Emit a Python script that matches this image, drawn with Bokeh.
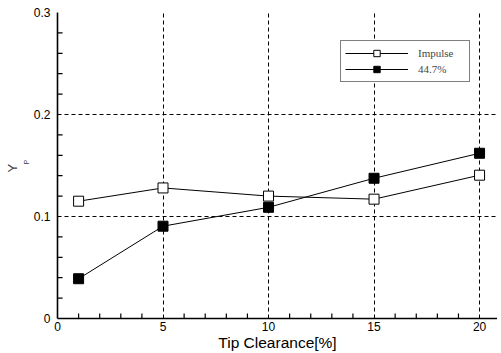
from bokeh.plotting import figure
from bokeh.models import FixedTicker, Range1d, Legend, LegendItem, Title
from bokeh.embed import file_html
from bokeh.resources import INLINE

# Data
clearance = [1, 5, 10, 15, 20]
impulse = [0.115, 0.128, 0.120, 0.117, 0.1405]
reaction_447 = [0.039, 0.0905, 0.109, 0.1375, 0.162]
series_names = ["Impulse", "44.7%"]
x_ticks = [0, 5, 10, 15, 20]
x_minor = list(range(1, 21))
y_ticks = [0, 0.1, 0.2, 0.3]
y_minor = [round(i * 0.02, 2) for i in range(1, 15)]
y_tick_labels = {0: "0", 0.1: "0.1", 0.2: "0.2", 0.3: "0.3"}

X_END = 20.85
p = figure(frame_width=440, frame_height=306, output_backend="svg", toolbar_location=None,
           x_range=Range1d(0, X_END), y_range=Range1d(0, 0.3),
           min_border_left=57, min_border_right=0, min_border_top=12, min_border_bottom=0)
p.outline_line_color = None
p.background_fill_color = "white"
p.border_fill_color = "white"

# Grid
for g in (p.xgrid, p.ygrid):
    g.grid_line_color = "black"
    g.grid_line_dash = "4 3"
    g.grid_line_width = 1
p.xgrid.ticker = FixedTicker(ticks=[5, 10, 15, 20])
p.ygrid.ticker = FixedTicker(ticks=[0.1, 0.2, 0.3])

# Axes
p.xaxis.ticker = FixedTicker(ticks=x_ticks, minor_ticks=[])
p.yaxis.ticker = FixedTicker(ticks=y_ticks, minor_ticks=[])
p.yaxis.major_label_overrides = y_tick_labels
p.xaxis.major_label_overrides = {v: str(v) for v in x_ticks}
for ax in (p.xaxis, p.yaxis):
    ax.axis_line_color = "black"
    ax.axis_line_width = 1.6
    ax.major_tick_in = 0
    ax.major_tick_out = 0
    ax.minor_tick_in = 0
    ax.minor_tick_out = 0
    ax.major_label_text_font = "Liberation Sans"
    ax.major_label_text_font_size = "12px"
    ax.major_label_text_color = "black"
p.yaxis.major_label_standoff = 7
p.xaxis.major_label_standoff = 3
p.xaxis.axis_label = "Tip Clearance[%]"
p.xaxis.axis_label_text_font = "Liberation Sans"
p.xaxis.axis_label_text_font_style = "normal"
p.xaxis.axis_label_text_font_size = "15.5px"
p.xaxis.axis_label_standoff = 0
p.xaxis.axis_label_text_color = "black"

# Inward ticks drawn from the tick arrays
xt = [v for v in x_minor if v % 5 != 0]
p.segment(x0=xt, y0=[0] * len(xt), x1=xt, y1=[0.005] * len(xt),
          line_color="black", line_width=1.2)
yt = [v for v in y_minor if round(v * 10, 6) % 1 != 0]
p.segment(x0=[0] * len(yt), y0=yt, x1=[0.24] * len(yt), y1=yt,
          line_color="black", line_width=1.2)

# Series
r1 = p.line(clearance, impulse, line_color="black", line_width=1)
m1 = p.scatter(clearance, impulse, marker="square", size=10, fill_color="white",
               line_color="black", line_width=1)
r2 = p.line(clearance, reaction_447, line_color="black", line_width=1)
m2 = p.scatter(clearance, reaction_447, marker="square", size=10, fill_color="black",
               line_color="black", line_width=1)

legend = Legend(items=[LegendItem(label=series_names[0], renderers=[r1, m1]),
                       LegendItem(label=series_names[1], renderers=[r2, m2])],
                location=(283, 236))
legend.glyph_width = 63
legend.glyph_height = 16
legend.label_text_font = "Liberation Serif"
legend.label_text_font_size = "11px"
legend.label_standoff = 10
legend.label_width = 47
legend.label_height = 16
legend.spacing = 0
legend.padding = 4
legend.margin = 0
legend.border_line_color = "black"
legend.border_line_width = 1
legend.background_fill_color = "white"
legend.background_fill_alpha = 1
p.add_layout(legend, "center")

# Y axis title: Y with subscript P (P closer to the axis, further up)
p.add_layout(Title(text="P", text_font="Liberation Sans", text_font_size="7.5px",
                   text_font_style="normal", align="left", offset=154,
                   standoff=0), "left")
p.add_layout(Title(text="Y", text_font="Liberation Sans", text_font_size="13px",
                   text_font_style="normal", align="left", offset=146,
                   standoff=0), "left")

open("out.html", "w").write(file_html(p, INLINE))
